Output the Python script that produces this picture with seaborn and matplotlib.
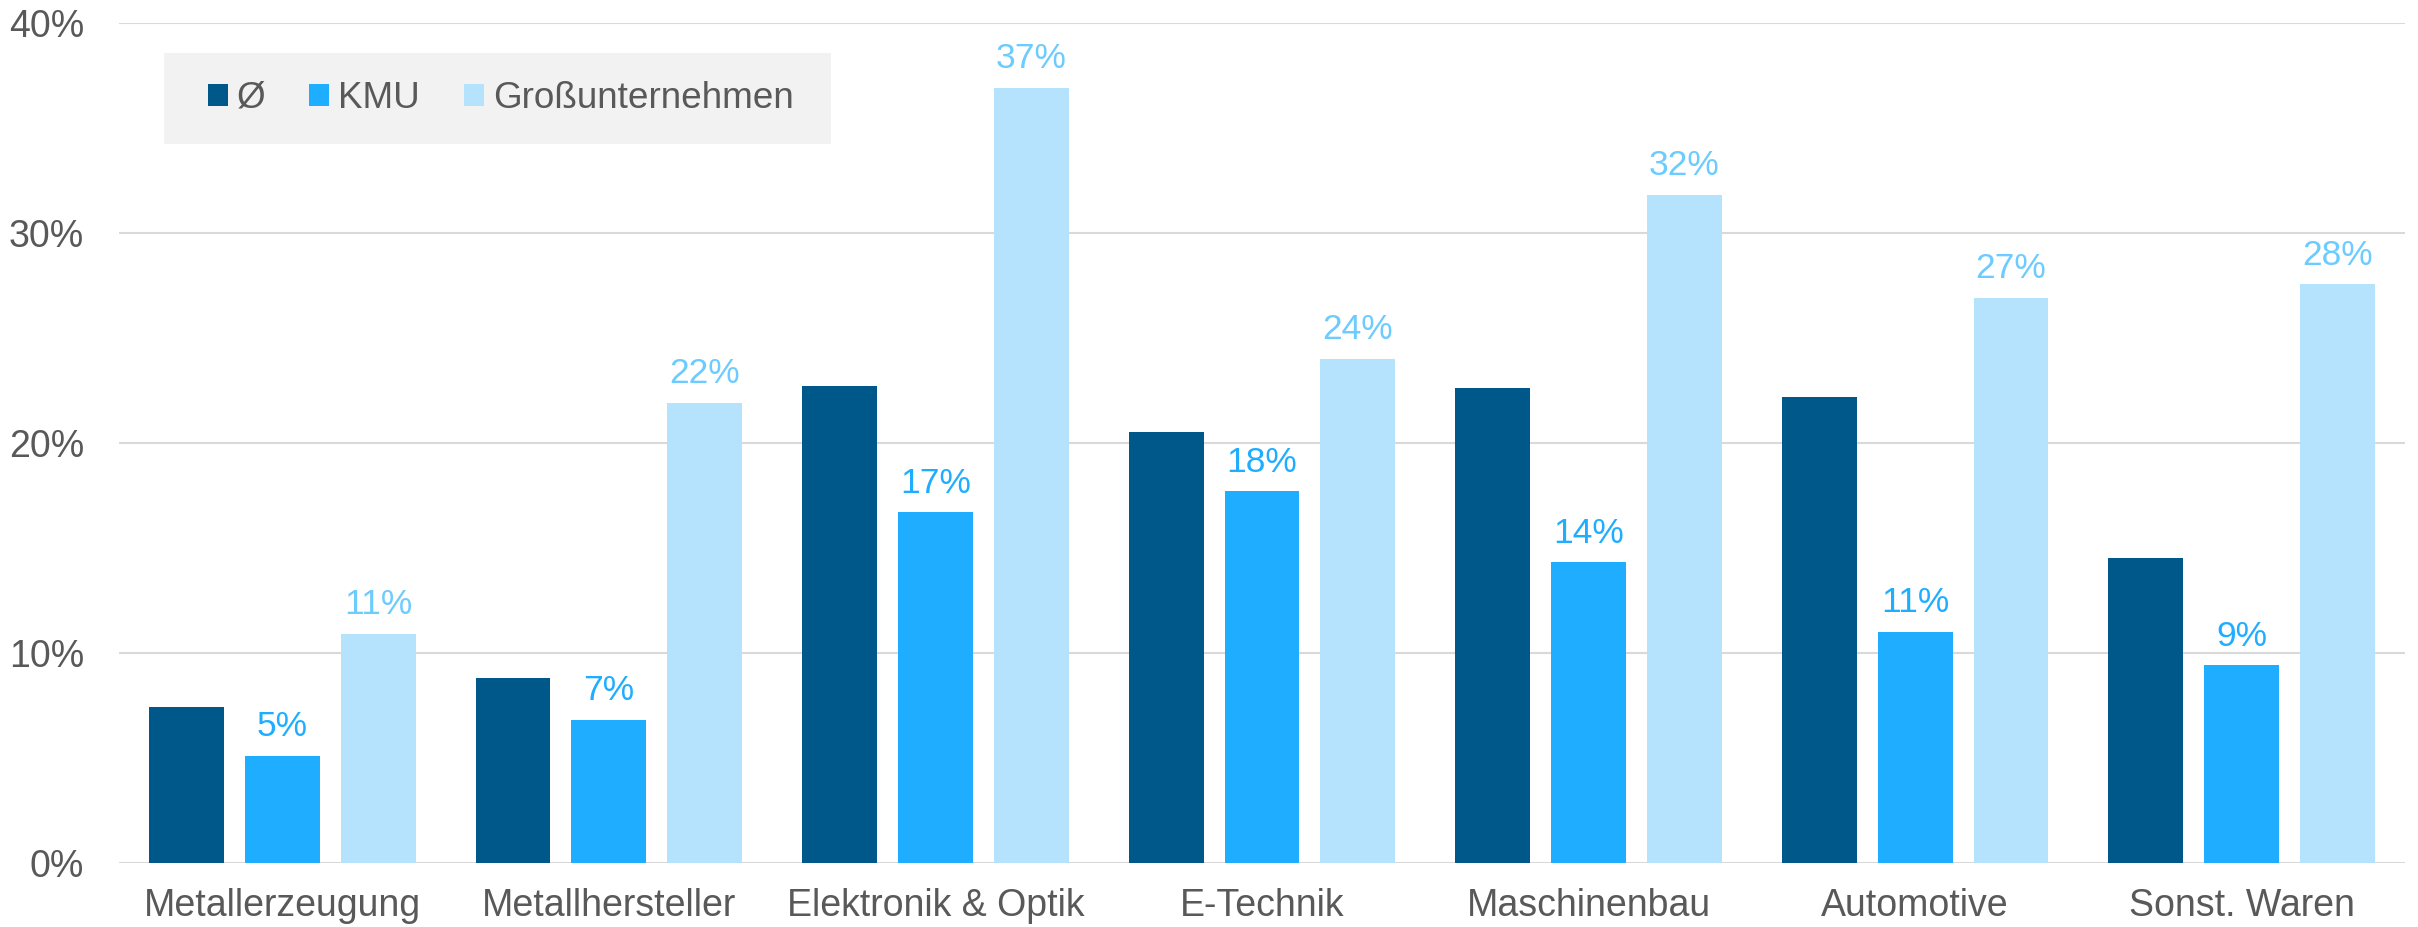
import pandas as pd
import matplotlib
matplotlib.use('Agg')
import matplotlib.pyplot as plt
import seaborn as sns
from matplotlib.patches import Patch, Rectangle

# Daten (Anteil in %)
branchen = ['Metallerzeugung', 'Metallhersteller', 'Elektronik & Optik', 'E-Technik',
            'Maschinenbau', 'Automotive', 'Sonst. Waren']
gruppen = ['Ø', 'KMU', 'Großunternehmen']
werte_avg = [7.4, 8.8, 22.7, 20.5, 22.6, 22.2, 14.5]
werte_kmu = [5.1, 6.8, 16.7, 17.7, 14.3, 11.0, 9.4]
werte_gross = [10.9, 21.9, 36.9, 24.0, 31.8, 26.9, 27.55]
y_ticks = [0, 10, 20, 30, 40]
y_tick_labels = ['0%', '10%', '20%', '30%', '40%']

farben = ['#00578A', '#1FAEFF', '#B5E3FD']
label_farben = {'KMU': '#1FAEFF', 'Großunternehmen': '#6CCBFF'}
grau = '#595959'

df = pd.DataFrame({
    'Branche': branchen * 3,
    'Gruppe': [g for g in gruppen for _ in branchen],
    'Wert': werte_avg + werte_kmu + werte_gross,
})

sns.set_style("white")
plt.rcParams['font.family'] = ['Liberation Sans', 'DejaVu Sans']

fig = plt.figure(figsize=(24.18, 9.27), dpi=100)
ax = fig.add_axes([119 / 2418, 1 - 862.7 / 927, 2286 / 2418, 840 / 927])

sns.barplot(data=df, x='Branche', y='Wert', hue='Gruppe', hue_order=gruppen,
            palette=farben, saturation=1, width=0.881, gap=0.219,
            linewidth=0, legend=False, ax=ax)

# Datenbeschriftungen nur für KMU und Großunternehmen
for cont, gruppe, vals in zip(ax.containers[1:], gruppen[1:], [werte_kmu, werte_gross]):
    ax.bar_label(cont, labels=[f"{v:.0f}%" for v in vals], padding=9,
                 fontsize=25.5, color=label_farben[gruppe])

ax.set_xlim(-0.5, 6.5)
ax.set_ylim(0, 40)
ax.set_yticks(y_ticks)
ax.set_yticklabels(y_tick_labels)
ax.set_xlabel('')
ax.set_ylabel('')
ax.tick_params(axis='both', length=0, labelsize=27, colors=grau)
ax.tick_params(axis='x', pad=18)
ax.tick_params(axis='y', pad=25)
ax.yaxis.grid(True, color='#D9D9D9', linewidth=1.5)
ax.xaxis.grid(False)
ax.set_axisbelow(True)
sns.despine(ax=ax, left=True, bottom=True)

# Legende mit grauem Hintergrund
ax.add_patch(Rectangle((0.0197, 0.8556), 0.2918, 0.1083, transform=ax.transAxes,
                       facecolor='#F2F2F2', edgecolor='none', zorder=3))
handles = [Patch(facecolor=c, edgecolor='none', label=g) for c, g in zip(farben, gruppen)]
leg = ax.legend(handles=handles, loc='center left', bbox_to_anchor=(0.0389, 0.9098),
                ncol=3, frameon=False, fontsize=26.6, handlelength=0.54, handleheight=0.54,
                handletextpad=0.24, columnspacing=1.19, borderpad=0, borderaxespad=0)
leg.set_zorder(4)
for t in leg.get_texts():
    t.set_color(grau)

fig.savefig('out.png', dpi=100)
